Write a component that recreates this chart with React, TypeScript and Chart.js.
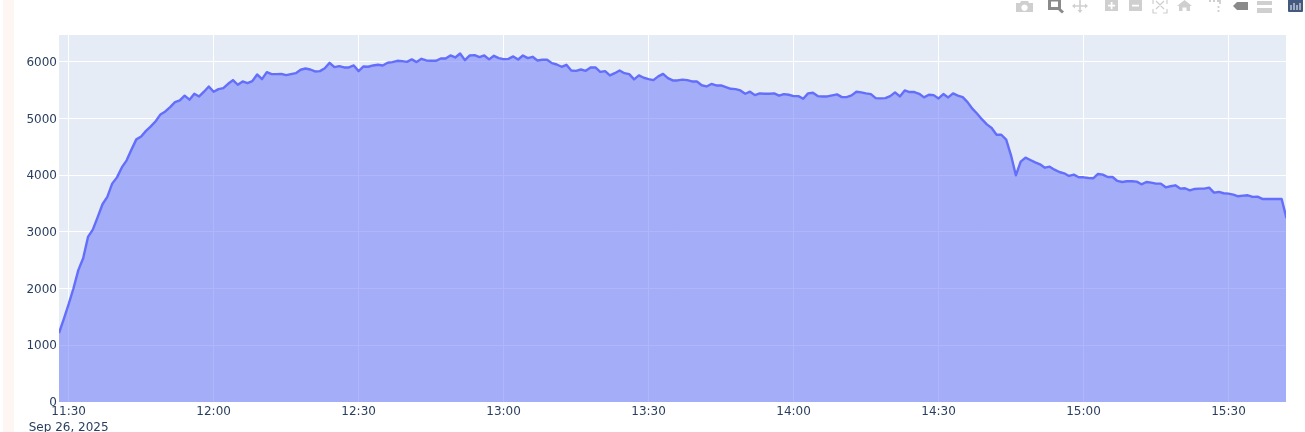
import React, { useEffect, useRef } from "react";
import { Chart, registerables } from "chart.js";

Chart.register(...registerables);

const firstMinute = 688; // 11:28
const yMax = 6470;
const xMax = 941.9;

const values = [
  1215, 1467, 1725, 2005, 2324, 2535, 2910, 3040, 3260, 3486,
  3615, 3850, 3960, 4135, 4260, 4450, 4630, 4680, 4780, 4860,
  4950, 5070, 5123, 5200, 5287, 5317, 5400, 5330, 5435, 5387,
  5470, 5563, 5470, 5516, 5534, 5610, 5675, 5593, 5651, 5622,
  5657, 5775, 5692, 5815, 5780, 5780, 5785, 5762, 5780, 5797,
  5857, 5880, 5862, 5827, 5833, 5885, 5980, 5903, 5921, 5898,
  5898, 5933, 5833, 5915, 5910, 5933, 5945, 5933, 5980, 5992,
  6015, 6010, 5997, 6040, 5992, 6050, 6021, 6015, 6015, 6056,
  6056, 6109, 6074, 6144, 6027, 6109, 6115, 6080, 6109, 6040,
  6103, 6062, 6045, 6050, 6092, 6038, 6109, 6062, 6086, 6021,
  6033, 6033, 5974, 5950, 5910, 5945, 5845, 5838, 5862, 5838,
  5898, 5898, 5821, 5833, 5757, 5797, 5845, 5797, 5780, 5687,
  5757, 5716, 5692, 5675, 5740, 5785, 5710, 5669, 5669, 5684,
  5675, 5651, 5651, 5584, 5563, 5607, 5581, 5581, 5552, 5522,
  5516, 5493, 5434, 5470, 5410, 5440, 5435, 5435, 5440, 5400,
  5428, 5417, 5393, 5393, 5346, 5440, 5452, 5393, 5387, 5387,
  5405, 5423, 5375, 5375, 5405, 5470, 5458, 5440, 5428, 5358,
  5352, 5358, 5393, 5458, 5387, 5493, 5464, 5464, 5434, 5370,
  5417, 5410, 5352, 5428, 5370, 5440, 5400, 5375, 5287, 5171,
  5082, 4982, 4894, 4830, 4712, 4712, 4625, 4349, 3996, 4237,
  4307, 4266, 4225, 4190, 4131, 4149, 4096, 4055, 4032, 3985,
  4008, 3961, 3961, 3950, 3944, 4020, 4008, 3967, 3967, 3897,
  3879, 3891, 3891, 3885, 3838, 3879, 3867, 3850, 3850, 3785,
  3803, 3820, 3762, 3768, 3732, 3756, 3762, 3762, 3780, 3692,
  3703, 3680, 3674, 3657, 3627, 3639, 3644, 3616, 3621, 3580,
  3580, 3580, 3580, 3580, 3240,
];

const xTicks = [690, 720, 750, 780, 810, 840, 870, 900, 930];
const xTickLabels = ["11:30", "12:00", "12:30", "13:00", "13:30", "14:00", "14:30", "15:00", "15:30"];
const dateLabel = "Sep 26, 2025";
const yTicks = [0, 1000, 2000, 3000, 4000, 5000, 6000];

const tickFont = { family: "'DejaVu Sans', Verdana, sans-serif", size: 12, lineHeight: 1.3 };
const tickColor = "#2a3f5f";

const plotBackground = {
  id: "plotBackground",
  beforeDraw(chart: any) {
    const { ctx, chartArea: a } = chart;
    ctx.save();
    ctx.fillStyle = "#E5ECF6";
    ctx.fillRect(a.left, a.top, a.right - a.left, a.bottom - a.top);
    ctx.restore();
  },
};

function ModeBar() {
  const light = "#cfcfcf";
  const dark = "#8a8a8a";
  return (
    <svg
      width={1305}
      height={20}
      style={{ position: "absolute", left: 0, top: 0, display: "block" }}
    >
      {/* camera */}
      <path d="M1016 3h4l1-2h7l1 2h4v9h-17z M1024.5 4.5a3.2 3.2 0 1 0 .01 0z" fill={light} fillRule="evenodd" />
      {/* zoom */}
      <path d="M1048 -1h13v11h-13z M1051 1.5v5.5h7V1.5z" fill={dark} fillRule="evenodd" />
      <path d="M1058 8l5 4.5" stroke={dark} strokeWidth={3} />
      {/* pan */}
      <path d="M1080 0v12M1073 6h14" stroke={light} strokeWidth={1.6} />
      <path d="M1080 13l-2.5-3h5zM1072 6l3-2.5v5zM1088 6l-3-2.5v5z" fill={light} />
      {/* zoom in */}
      <path d="M1105 0h13v11h-13z M1110.7 2v2.7H1108v1.8h2.7v2.7h1.8V6.5h2.7V4.7h-2.7V2z" fill={light} fillRule="evenodd" />
      {/* zoom out */}
      <path d="M1129 0h13v11h-13z M1132 4.7v1.8h7V4.7z" fill={light} fillRule="evenodd" />
      {/* autoscale */}
      <path d="M1153 4V0M1167 4V0M1153 9v4h4M1167 9v4h-4M1156 1l8 8M1164 1l-8 8" stroke={light} strokeWidth={1.2} fill="none" />
      {/* home */}
      <path d="M1184.5 0l7.5 6h-2v5h-3.5V7.5h-4V11H1179V6h-2z" fill={light} />
      {/* spikes */}
      <path d="M1209 1h2M1213 1h2M1217 1h3v3M1218.5 6v2M1218.5 10v2" stroke={light} strokeWidth={1.8} fill="none" />
      {/* closest hover tag */}
      <path d="M1233 6l4-4h11v8h-11z" fill={dark} />
      {/* compare hover */}
      <path d="M1257 1h15v4h-15zM1257 8h15v5h-15z" fill={light} />
      {/* logo */}
      <rect x={1288} y={-2} width={15} height={14} rx={1} fill="#44597f" />
      <path d="M1291 5v5M1294 3v7M1297 5v5M1300 3v7" stroke="#ffffff" strokeWidth={1} />
    </svg>
  );
}

export default function App() {
  const ref = useRef<HTMLCanvasElement>(null);

  useEffect(() => {
    const chart = new Chart(ref.current as HTMLCanvasElement, {
      type: "line",
      data: {
        datasets: [
          {
            data: values.map((v, i) => ({ x: firstMinute + i, y: v })),
            borderColor: "#636EFA",
            borderWidth: 2.4,
            borderJoinStyle: "round",
            backgroundColor: "rgba(99,110,250,0.5)",
            fill: "origin",
            pointRadius: 0,
            tension: 0,
          },
        ],
      },
      options: {
        animation: false,
        responsive: false,
        layout: { padding: { top: 35, right: 19, left: 0, bottom: 0 } },
        plugins: { legend: { display: false }, tooltip: { enabled: false } },
        scales: {
          x: {
            type: "linear",
            min: firstMinute,
            max: xMax,
            afterBuildTicks: (s: any) => {
              s.ticks = xTicks.map((value) => ({ value }));
            },
            afterFit: (s: any) => {
              s.height = 30;
            },
            grid: { color: "#ffffff", lineWidth: 1, drawTicks: false },
            border: { display: false },
            ticks: {
              autoSkip: false,
              maxRotation: 0,
              minRotation: 0,
              padding: 2,
              color: tickColor,
              font: tickFont,
              callback: (v: any) => {
                const i = xTicks.indexOf(Number(v));
                return i === 0 ? [xTickLabels[i], dateLabel] : xTickLabels[i];
              },
            },
          },
          y: {
            type: "linear",
            min: 0,
            max: yMax,
            afterBuildTicks: (s: any) => {
              s.ticks = yTicks.map((value) => ({ value }));
            },
            afterFit: (s: any) => {
              s.width = 59;
            },
            grid: { color: "#ffffff", lineWidth: 1, drawTicks: false },
            border: { display: false },
            ticks: {
              padding: 2,
              labelOffset: 1,
              color: tickColor,
              font: tickFont,
              callback: (v: any) => String(v),
            },
          },
        },
      },
      plugins: [plotBackground],
    } as any);
    return () => chart.destroy();
  }, []);

  return (
    <div
      style={{
        position: "absolute",
        left: 0,
        top: 0,
        width: 1305,
        height: 432,
        overflow: "hidden",
        background: "#ffffff",
      }}
    >
      <div
        style={{
          position: "absolute",
          left: 3,
          top: 0,
          width: 11,
          height: 432,
          background: "#FDF6F3",
        }}
      />
      <canvas
        ref={ref}
        width={1305}
        height={432}
        style={{ position: "absolute", left: 0, top: 0, display: "block" }}
      />
      <ModeBar />
    </div>
  );
}
